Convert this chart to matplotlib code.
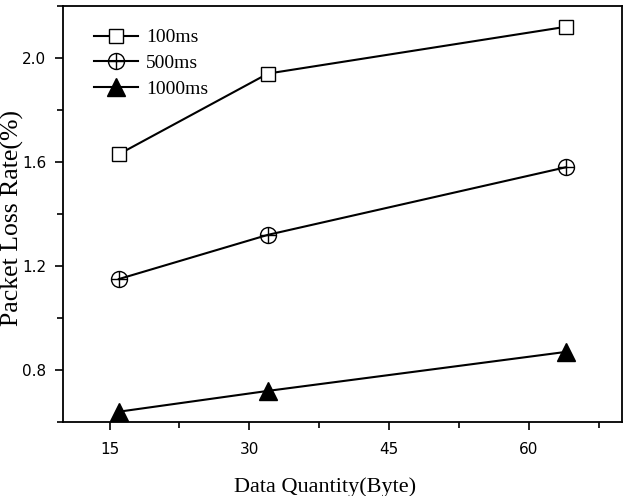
import numpy as np
import matplotlib.pyplot as plt
from matplotlib.path import Path
from matplotlib.ticker import MultipleLocator

x = [16, 32, 64]
loss_100 = [1.63, 1.94, 2.12]
loss_500 = [1.15, 1.32, 1.58]
loss_1000 = [0.64, 0.72, 0.87]
labels = ['100ms', '500ms', '1000ms']

# circle with a plus inside
circ = Path.unit_circle()
cross = Path([(-1, 0), (1, 0), (0, -1), (0, 1)],
             [Path.MOVETO, Path.LINETO, Path.MOVETO, Path.LINETO])
oplus = Path.make_compound_path(circ, cross)

fig = plt.figure(figsize=(6.26, 4.96), dpi=100)
ax = fig.add_axes([0.1006, 0.149, 0.893, 0.839])

ax.plot(x, loss_100, '-', color='black', lw=1.5, marker='s', ms=10,
        mfc='white', mec='black', mew=1, label=labels[0])
ax.plot(x, loss_500, '-', color='black', lw=1.5, marker=oplus, ms=11.5,
        mfc='none', mec='black', mew=1, label=labels[1])
ax.plot(x, loss_1000, '-', color='black', lw=1.5, marker='^', ms=12.5,
        mfc='black', mec='black', label=labels[2])

ax.set_xlim(10, 70)
ax.set_ylim(0.6, 2.2)
ax.xaxis.set_major_locator(MultipleLocator(15))
ax.xaxis.set_minor_locator(MultipleLocator(7.5))
ax.set_yticks([0.8, 1.2, 1.6, 2.0])
ax.set_yticklabels(['0.8', '1.2', '1.6', '2.0'])
ax.yaxis.set_minor_locator(MultipleLocator(0.2))
ax.tick_params(which='both', direction='out', width=1.2, labelsize=11)
ax.tick_params(which='major', length=6, pad=8)
ax.tick_params(axis='y', which='major', pad=6)
ax.tick_params(which='minor', length=4)
for s in ax.spines.values():
    s.set_linewidth(1.3)

ax.set_xlabel('Data Quantity(Byte)', family='Liberation Serif', fontsize=16)
ax.xaxis.set_label_coords(0.469, -0.132)
ax.set_ylabel('Packet Loss Rate(%)', family='Liberation Serif', fontsize=18.5)
ax.yaxis.set_label_coords(-0.07, 0.49)

ax.legend(loc='upper left', frameon=False, prop={'family': 'Liberation Serif', 'size': 14},
          handlelength=2.3, handletextpad=0.4, labelspacing=0.42,
          borderaxespad=0, borderpad=0, bbox_to_anchor=(0.055, 0.945))

plt.savefig('out.png', dpi=100)
